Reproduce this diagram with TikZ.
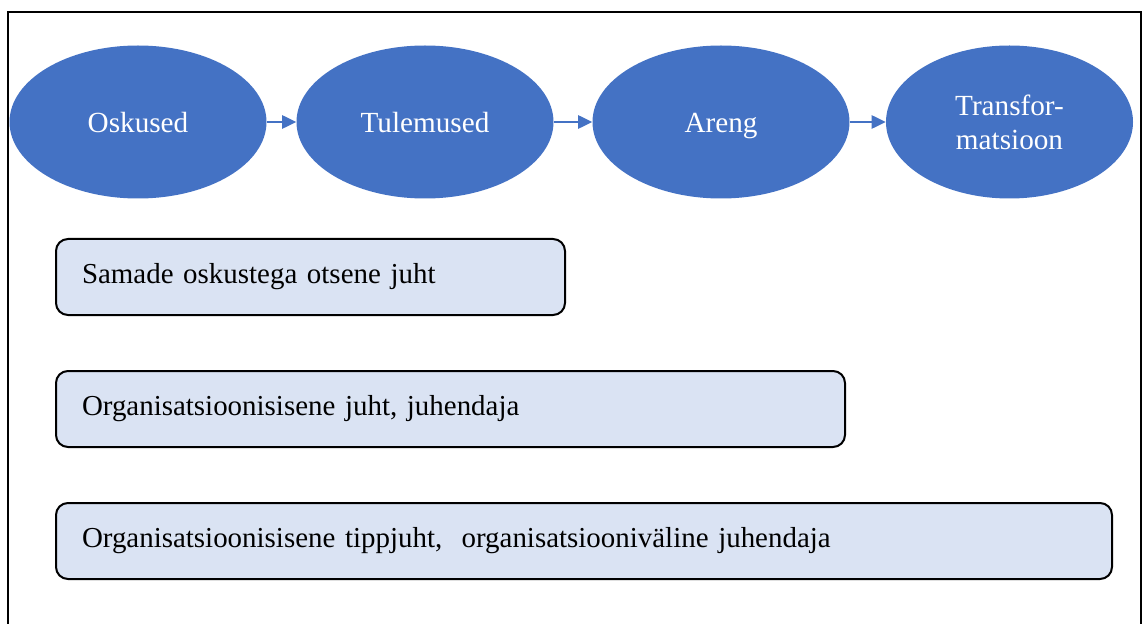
\documentclass[tikz,border=0pt]{standalone}
\usepackage{fontspec}
\setmainfont{Liberation Serif}
\usetikzlibrary{shapes.geometric,arrows.meta}
\definecolor{ellblue}{HTML}{4472C4}
\definecolor{boxfill}{HTML}{DAE3F3}
\begin{document}
\begin{tikzpicture}[x=0.75pt,y=-0.75pt,
  ell/.style={ellipse,fill=ellblue,draw=none,minimum width=192.75pt,minimum height=114.75pt,inner sep=0pt,text=white,align=center,font=\fontsize{21.9}{25.5}\selectfont},
  oneline/.style={text height=20pt,text depth=3.5pt},
  flow/.style={draw=ellblue,line width=1.1pt,-{Triangle[length=10.5pt,width=10pt]}},
  lbox/.style={draw=black,line width=1.5pt,fill=boxfill,rounded corners=9pt,minimum height=57pt,inner xsep=19.5pt,inner ysep=0pt,align=left,font=\fontsize{21.7}{25.5}\selectfont}]
\useasboundingbox (0,0) rectangle (1143,624);
\draw[line width=1.1pt] (8,630) -- (8,12) -- (1141,12) -- (1141,630);
\node[ell,oneline] (e1) at (138,122) {Oskused};
\node[ell,oneline] (e2) at (425,122) {Tulemused};
\node[ell,oneline] (e3) at (721,122) {Areng};
\node[ell,minimum width=185.25pt] (e4) at (1009.5,122) {Transfor-\\matsioon};
\draw[flow] (e1) -- (e2);
\draw[flow] (e2) -- (e3);
\draw[flow] (e3) -- (e4);
\node[lbox,text width=342.75pt] (b1) at (310.5,277) {Samade oskustega otsene juht};
\node[lbox,text width=552.75pt] (b2) at (450.5,409) {Organisatsioonisisene juht, juhendaja};
\node[lbox,text width=753pt] (b3) at (584,541) {Organisatsioonisisene tippjuht,\ \ organisatsiooniväline juhendaja};
\end{tikzpicture}
\end{document}
